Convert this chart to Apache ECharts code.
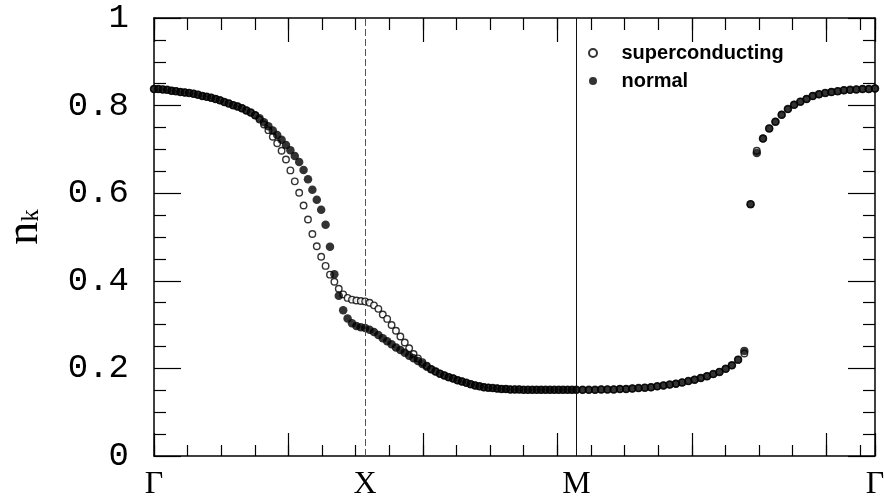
<!DOCTYPE html>
<html>
<head>
<meta charset="utf-8">
<script src="https://cdn.jsdelivr.net/npm/echarts@6/dist/echarts.min.js"></script>
<style>html,body{margin:0;padding:0;background:#fff}#c{width:884px;height:497px}</style>
</head>
<body>
<div id="c"></div>
<script>
// symmetry-point labels along the k path (Γ–X–M–Γ), positions in units of 1/a
const xLabels = ['Γ', 'X', 'M', 'Γ'];
const xLabelPos = [0, Math.PI, 2 * Math.PI, 2 * Math.PI + Math.SQRT2 * Math.PI];
const yTicks = [0, 0.2, 0.4, 0.6, 0.8, 1];
const seriesNames = ['superconducting', 'normal'];
const stepsPerSegment = 48; // lattice steps per segment

// normal state n_k
const normalGX = [0.838,0.838,0.837,0.836,0.834,0.833,0.831,0.830,0.829,0.827,
  0.825,0.822,0.820,0.818,0.815,0.812,0.808,0.805,0.801,0.798,
  0.794,0.789,0.784,0.778,0.771,0.762,0.753,0.743,0.733,0.722,
  0.710,0.698,0.685,0.671,0.653,0.632,0.608,0.585,0.562,0.528,
  0.478,0.415,0.366,0.333,0.314,0.303,0.297,0.294,0.292];
const normalXM = [0.288,0.283,0.276,0.269,0.262,0.255,0.248,0.242,0.236,0.229,
  0.223,0.217,0.210,0.204,0.198,0.193,0.188,0.184,0.180,0.177,
  0.173,0.170,0.167,0.164,0.161,0.159,0.157,0.156,0.155,0.154,
  0.153,0.153,0.152,0.152,0.152,0.151,0.151,0.151,0.151,0.151,
  0.151,0.151,0.151,0.151,0.151,0.151,0.151,0.151];
const normalMG = [0.151,0.151,0.151,0.152,0.152,0.152,0.153,0.153,0.154,0.155,
  0.156,0.157,0.159,0.161,0.163,0.165,0.168,0.171,0.174,0.178,
  0.182,0.187,0.192,0.199,0.207,0.220,0.240,0.575,0.692,0.725,
  0.748,0.763,0.779,0.792,0.802,0.809,0.815,0.822,0.826,0.829,
  0.831,0.833,0.835,0.836,0.837,0.838,0.838,0.839];

// superconducting state n_k
const scGX = [0.838,0.838,0.837,0.836,0.834,0.833,0.831,0.830,0.829,0.827,
  0.825,0.822,0.820,0.818,0.815,0.812,0.808,0.805,0.801,0.798,
  0.794,0.789,0.784,0.778,0.768,0.757,0.744,0.729,0.714,0.697,
  0.677,0.652,0.627,0.601,0.572,0.540,0.507,0.479,0.455,0.434,
  0.414,0.398,0.382,0.369,0.361,0.357,0.355,0.354,0.353];
const scXM = [0.350,0.344,0.336,0.323,0.313,0.299,0.286,0.273,0.259,0.246,
  0.233,0.223,0.214,0.206,0.198,0.193,0.188,0.184,0.180,0.177,
  0.173,0.170,0.167,0.164,0.161,0.159,0.157,0.156,0.155,0.154,
  0.153,0.153,0.152,0.152,0.152,0.151,0.151,0.151,0.151,0.151,
  0.151,0.151,0.151,0.151,0.151,0.151,0.151,0.151];
const scMG = [0.151,0.151,0.151,0.152,0.152,0.152,0.153,0.153,0.154,0.155,
  0.156,0.157,0.159,0.161,0.163,0.165,0.168,0.171,0.174,0.178,
  0.182,0.187,0.192,0.199,0.207,0.220,0.234,0.575,0.697,0.725,
  0.748,0.763,0.779,0.792,0.802,0.809,0.815,0.822,0.826,0.829,
  0.831,0.833,0.835,0.836,0.837,0.838,0.838,0.839];

// map lattice index on each segment to path coordinate
function buildPath(gx, xm, mg) {
  const out = [];
  const dStraight = Math.PI / stepsPerSegment;
  const dDiag = Math.SQRT2 * Math.PI / stepsPerSegment;
  gx.forEach((v, i) => out.push([i * dStraight, v]));
  xm.forEach((v, j) => out.push([Math.PI + (j + 1) * dStraight, v]));
  mg.forEach((v, m) => out.push([2 * Math.PI + (m + 1) * dDiag, v]));
  return out;
}
const KMAX = xLabelPos[xLabelPos.length - 1];

const chart = echarts.init(document.getElementById('c'), null, {renderer: 'canvas'});
const black = '#000';
const tickLine = {color: black, width: 1.2};
function xAx(pos, interval, len, showLine, showLabel) {
  return {
    type: 'value', position: pos, min: 0, max: KMAX, interval: interval,
    axisLine: {show: showLine, onZero: false, lineStyle: {color: black, width: 1.5}},
    axisTick: {show: true, inside: true, length: len, lineStyle: tickLine},
    splitLine: {show: false},
    axisLabel: showLabel ? {
      show: true, customValues: xLabelPos, margin: 13,
      fontFamily: 'Liberation Serif', fontSize: 32, color: black,
      formatter: function (v) {
        let best = 0;
        xLabelPos.forEach((p, i) => { if (Math.abs(p - v) < Math.abs(xLabelPos[best] - v)) best = i; });
        return xLabels[best];
      }
    } : {show: false}
  };
}
function yAx(pos, showLabel) {
  const a = {
    type: 'value', position: pos, min: 0, max: 1, interval: 0.2,
    axisLine: {show: true, onZero: false, lineStyle: {color: black, width: 1.5}},
    axisTick: {show: true, inside: true, length: 27, lineStyle: tickLine},
    minorTick: {show: true, splitNumber: 4, length: 12, lineStyle: tickLine},
    splitLine: {show: false},
    axisLabel: showLabel ? {
      show: true, margin: 25, fontFamily: 'Liberation Mono', fontSize: 34, color: black,
      formatter: function (v) { return String(+v.toFixed(1)); }
    } : {show: false}
  };
  if (showLabel) {
    a.name = '{n|n}{k|k}';
    a.nameLocation = 'middle';
    a.nameRotate = 90;
    a.nameGap = 110;
    a.nameTextStyle = {
      padding: [0, 0, 0, 20],
      rich: {
        n: {fontFamily: 'Liberation Serif', fontSize: 46, lineHeight: 42, verticalAlign: 'top', color: black},
        k: {fontFamily: 'Liberation Serif', fontSize: 25, lineHeight: 23, padding: [26, 0, 0, 0], verticalAlign: 'bottom', color: black}
      }
    };
  }
  return a;
}

chart.setOption({
  animation: false,
  backgroundColor: '#fff',
  grid: {left: 154, right: 9, top: 18, bottom: 41, containLabel: false, outerBoundsMode: 'none'},
  legend: {
    orient: 'vertical', left: 583, top: 37, icon: 'circle',
    itemWidth: 47, itemHeight: 8, itemGap: 6,
    data: seriesNames,
    textStyle: {fontFamily: "'Liberation Sans Narrow', 'Liberation Sans', sans-serif", fontWeight: 'bold', fontSize: 20, lineHeight: 22, color: black}
  },
  xAxis: [
    xAx('bottom', 0.5, 11, true, true),
    xAx('bottom', 2, 23, false, false),
    xAx('top', 0.5, 12, true, false),
    xAx('top', 2, 24, false, false)
  ],
  yAxis: [yAx('left', true), yAx('right', false)],
  series: [
    {
      name: seriesNames[0], type: 'scatter', xAxisIndex: 0, yAxisIndex: 0,
      symbol: 'circle', symbolSize: 6.5, clip: false, z: 2,
      itemStyle: {color: '#fff', borderColor: black, borderWidth: 1.4},
      data: buildPath(scGX, scXM, scMG)
    },
    {
      name: seriesNames[1], type: 'scatter', xAxisIndex: 0, yAxisIndex: 0,
      symbol: 'circle', symbolSize: 8.5, clip: false, z: 3,
      itemStyle: {color: black},
      data: buildPath(normalGX, normalXM, normalMG),
      markLine: {
        silent: true, symbol: ['none', 'none'], label: {show: false},
        data: [
          {xAxis: xLabelPos[1], lineStyle: {color: '#555', width: 1, type: [7, 3]}},
          {xAxis: xLabelPos[2], lineStyle: {color: '#111', width: 1, type: 'solid'}}
        ]
      }
    }
  ]
});
</script>
</body>
</html>
